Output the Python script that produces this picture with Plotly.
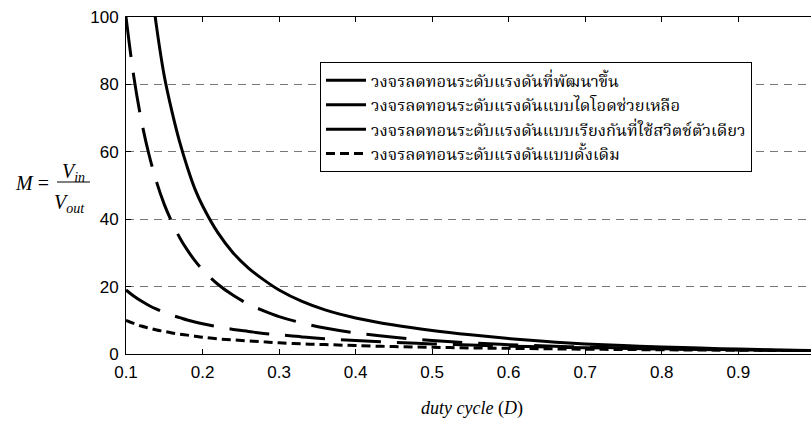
import plotly.graph_objects as go

# duty cycle values
D = [0.10, 0.11, 0.12, 0.13, 0.14, 0.15, 0.16, 0.17, 0.18, 0.19, 0.20, 0.22, 0.24,
     0.26, 0.28, 0.30, 0.33, 0.36, 0.40, 0.45, 0.50, 0.55, 0.60, 0.65, 0.70, 0.75,
     0.80, 0.85, 0.90, 0.95, 1.00]

# developed step-down circuit (solid)
m_developed = [190, 158, 134, 115, 97, 82.5, 72, 63, 55.5, 49, 44, 36, 30,
               25.5, 22, 19, 15.6, 13.1, 10.7, 8.6, 7.0, 5.7, 4.6, 3.7, 3.0, 2.5,
               2.1, 1.75, 1.45, 1.2, 1.0]
# diode-assisted (long dash)
m_diode = [100, 82.6, 69.4, 59.2, 51.0, 44.4, 39.1, 34.6, 30.9, 27.7, 25.0, 20.7, 17.4,
           14.8, 12.8, 11.1, 9.2, 7.7, 6.25, 4.94, 4.0, 3.3, 2.78, 2.37, 2.04, 1.78,
           1.56, 1.38, 1.23, 1.11, 1.0]
# series single-switch (long dash)
m_single = [19.0, 17.2, 15.7, 14.4, 13.3, 12.3, 11.5, 10.8, 10.1, 9.5, 9.0, 8.1, 7.3,
            6.7, 6.1, 5.7, 5.06, 4.56, 4.0, 3.44, 3.0, 2.64, 2.33, 2.08, 1.86, 1.67,
            1.5, 1.35, 1.22, 1.1, 1.0]
# conventional (short dash)
m_conv = [10.0, 9.1, 8.3, 7.7, 7.1, 6.7, 6.25, 5.9, 5.6, 5.3, 5.0, 4.5, 4.2,
          3.85, 3.6, 3.33, 3.0, 2.8, 2.5, 2.2, 2.0, 1.8, 1.67, 1.54, 1.43, 1.33,
          1.25, 1.18, 1.11, 1.05, 1.0]

names = ["วงจรลดทอนระดับแรงดันที่พัฒนาขึ้น",
         "วงจรลดทอนระดับแรงดันแบบไดโอดช่วยเหลือ",
         "วงจรลดทอนระดับแรงดันแบบเรียงกันที่ใช้สวิตช์ตัวเดียว",
         "วงจรลดทอนระดับแรงดันแบบดั้งเดิม"]
series = [m_developed, m_diode, m_single, m_conv]
dashes = ["solid", "40px,16px", "40px,16px", "9px,5px"]

x_ticks = [0.1, 0.2, 0.3, 0.4, 0.5, 0.6, 0.7, 0.8, 0.9]
y_ticks = [0, 20, 40, 60, 80, 100]

W, H = 811, 423
L, R, T, B = 126, 0, 17, 69
pw, ph = W - L - R, H - T - B

def px(p):
    return (p - L) / pw

def py(q):
    return (H - B - q) / ph

fig = go.Figure()
for nm, ys, ds in zip(names, series, dashes):
    fig.add_trace(go.Scatter(x=D, y=ys, mode="lines", name=nm,
                             line=dict(color="black", width=3, dash=ds, shape="spline")))

serif = "Liberation Serif, Times New Roman, serif"
fig.update_layout(
    width=W, height=H,
    margin=dict(l=L, r=R, t=T, b=B),
    plot_bgcolor="white", paper_bgcolor="white",
    showlegend=True,
    legend=dict(x=px(320), y=py(62), xanchor="left", yanchor="top",
                bgcolor="white", bordercolor="black", borderwidth=1,
                font=dict(family="Noto Serif Thai, Noto Sans Thai, Tahoma, serif", size=16.5, color="black"),
                tracegroupgap=0, itemwidth=40),
    xaxis=dict(range=[0.1, 0.995], tickvals=x_ticks, ticktext=[str(v) for v in x_ticks],
               ticks="inside", ticklen=5, tickcolor="black", showline=True,
               linecolor="black", linewidth=1, mirror="ticks", showgrid=False,
               zeroline=False, ticklabelstandoff=3,
               tickfont=dict(family="Liberation Sans, Arial, sans-serif", size=17, color="black")),
    yaxis=dict(range=[0, 100], tickvals=y_ticks, ticks="inside", ticklen=5,
               tickcolor="black", showline=True, linecolor="black", linewidth=1,
               showgrid=True, gridcolor="#777777", gridwidth=1, griddash="8px,6px",
               zeroline=False, ticklabelstandoff=3,
               tickfont=dict(family="Liberation Sans, Arial, sans-serif", size=17, color="black")),
)

def ann(x, y, text, size):
    fig.add_annotation(x=px(x), y=py(y), xref="paper", yref="paper", showarrow=False,
                       xanchor="center", yanchor="middle", text=text,
                       font=dict(family=serif, size=size, color="black"))

ann(32, 183, "<i>M</i> =", 20)
ann(73, 172, "<i>V<sub>in</sub></i>", 20)
ann(69, 203, "<i>V<sub>out</sub></i>", 20)
fig.add_shape(type="line", xref="paper", yref="paper", x0=px(57), x1=px(90),
              y0=py(182), y1=py(182), line=dict(color="black", width=1))
ann(472, 408, "<i>duty cycle</i> (<i>D</i>)", 18)

fig.write_html("out.html")
